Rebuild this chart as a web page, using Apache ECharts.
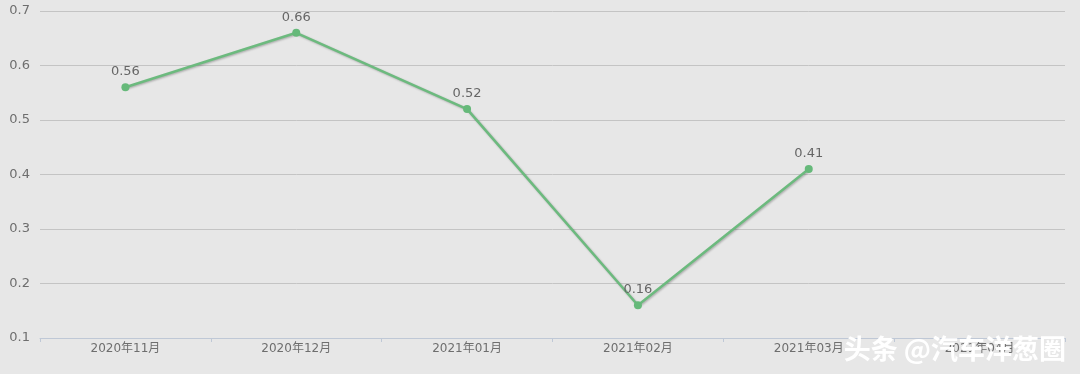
<!DOCTYPE html>
<html>
<head>
<meta charset="utf-8">
<script src="https://cdn.jsdelivr.net/npm/echarts@6/dist/echarts.min.js"></script>
<style>
html,body{margin:0;padding:0;background:#e7e7e7;}
#chart{width:1080px;height:374px;}
</style>
</head>
<body>
<div id="chart"></div>
<script>
var categories = ['2020年11月','2020年12月','2021年01月','2021年02月','2021年03月','2021年04月'];
var values = [0.56, 0.66, 0.52, 0.16, 0.41, null];
var yTicks = {min: 0.1, max: 0.7, interval: 0.1};
var watermark = '头条 @汽车洋葱圈';

var chart = echarts.init(document.getElementById('chart'));
chart.setOption({
  backgroundColor: '#e7e7e7',
  animation: false,
  grid: {left: 40, right: 15, top: 11, bottom: 36, containLabel: false},
  xAxis: {
    type: 'category',
    data: categories,
    boundaryGap: true,
    axisLine: {lineStyle: {color: '#bfc8d6', width: 1}},
    axisTick: {show: true, length: 4, lineStyle: {color: '#bfc8d6'}},
    axisLabel: {color: '#6e6e6e', fontSize: 12, margin: 5, fontFamily: '"DejaVu Sans", "Noto Sans CJK SC"'}
  },
  yAxis: {
    type: 'value',
    min: yTicks.min, max: yTicks.max, interval: yTicks.interval,
    axisLine: {show: false},
    axisTick: {show: false},
    axisLabel: {color: '#6e6e6e', fontSize: 13, margin: 10, fontFamily: '"DejaVu Sans"',
      formatter: function(v){ return v.toFixed(1); }},
    splitLine: {lineStyle: {color: '#c4c4c4', width: 1}}
  },
  series: [{
    type: 'line',
    data: values,
    connectNulls: false,
    symbol: 'circle',
    symbolSize: 8,
    itemStyle: {color: '#66b97a'},
    lineStyle: {color: '#6cba7e', width: 2.5, shadowColor: 'rgba(0,0,0,0.25)', shadowBlur: 2, shadowOffsetX: 1, shadowOffsetY: 1},
    label: {show: true, position: 'top', distance: 5, color: '#666', fontSize: 13, fontFamily: '"DejaVu Sans"'}
  }],
  graphic: [{
    type: 'text',
    x: 1066,
    y: 349,
    z: 100,
    style: {
      text: watermark,
      fill: '#ffffff',
      font: 'bold 27px "Noto Sans CJK SC"',
      align: 'right',
      verticalAlign: 'middle',
      shadowColor: 'rgba(0,0,0,0.9)',
      shadowBlur: 1,
      shadowOffsetX: 1.5,
      shadowOffsetY: 1.5
    }
  }]
});
</script>
</body>
</html>
